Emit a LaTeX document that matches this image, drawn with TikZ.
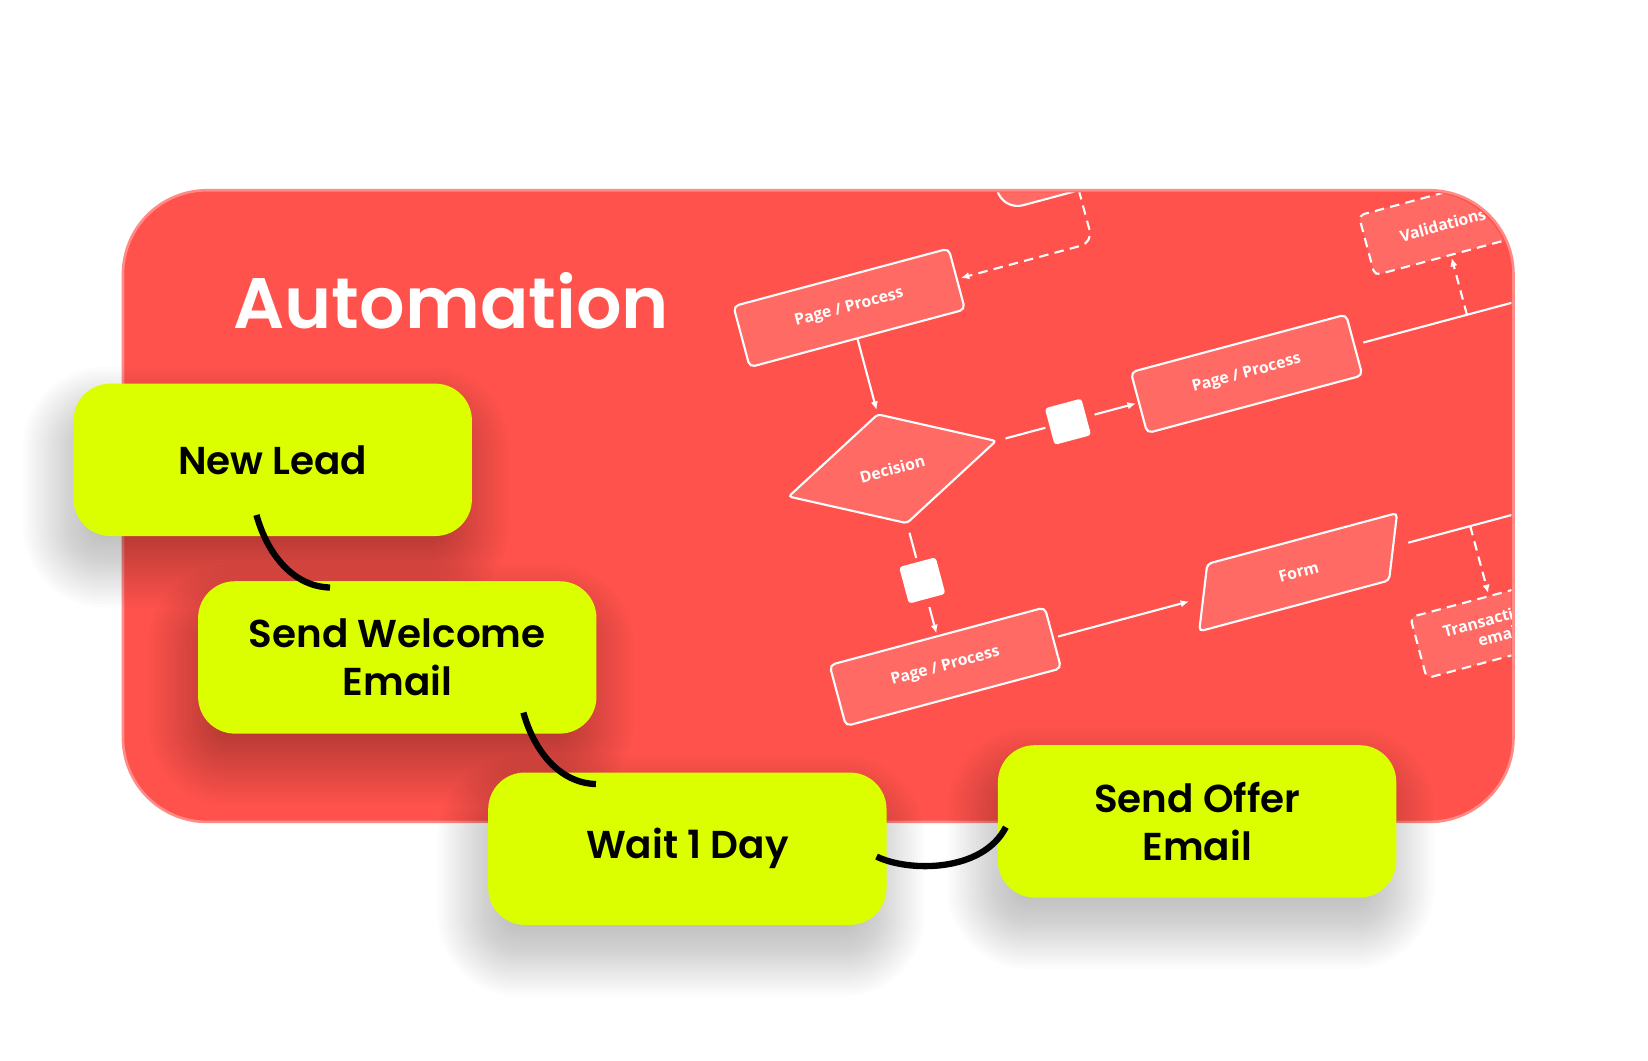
\documentclass[tikz,border=0pt]{standalone}
\usepackage{fontspec}
\setmainfont{Poppins}[BoldFont={Poppins SemiBold}]
\newfontfamily\flowfont{Open Sans}
\usetikzlibrary{shapes.geometric,arrows.meta,calc}
\definecolor{cardred}{HTML}{FF524C}
\definecolor{cardrim}{HTML}{FF8A86}
\definecolor{lime}{HTML}{DCFF00}
\newcommand\softshadow[2]{%
  \foreach \i in {0,...,22}{%
    \pgfmathsetmacro\ex{-24+\i*3}%
    \pgfmathsetmacro\rr{max(35+\ex,8)}%
    \fill[black, fill opacity=0.013, rounded corners=\rr pt]
      ({#1-189.5-\ex-6},{#2-72.5-\ex+26}) rectangle ({#1+189.5+\ex-6},{#2+72.5+\ex+26});
  }}
\begin{document}
\begin{tikzpicture}[x=1pt,y=-1pt,
  card/.style={fill=cardred, draw=cardrim, line width=2.5pt, rounded corners=80pt,
    minimum width=1323pt, minimum height=601pt, inner sep=0pt},
  gbox/.style={fill=lime, rounded corners=35pt, minimum width=379pt, minimum height=145pt,
    inner sep=0pt, align=center, text=black, font=\bfseries\fontsize{37}{45}\selectfont},
  flowtxt/.style={text=white, font=\flowfont\bfseries\fontsize{15}{18}\selectfont},
  flowfill/.style={draw=white, line width=2pt, fill=white, fill opacity=0.14},
  flowbox/.style={flowtxt, flowfill, text opacity=1, rounded corners=5pt,
    minimum width=212pt, minimum height=60pt, inner sep=0pt, align=center},
  flowdia/.style={flowtxt, flowfill, shape=diamond, text opacity=1,
    minimum width=205pt, minimum height=108pt, inner sep=0pt, rounded corners=3pt},
  sqr/.style={fill=white, rounded corners=3pt, minimum size=36pt, inner sep=0pt},
  fline/.style={draw=white, line width=2pt},
  tip/.style={-{Latex[length=8pt,width=7pt]}},
  dashline/.style={dash pattern=on 9pt off 6pt},
  conn/.style={draw=black, line width=6pt}
]
\useasboundingbox (0,0) rectangle (1568,1009);

% card
\node[card] (card) at (778.5,481.5) {};
\node[text=white, font=\bfseries\fontsize{68}{80}\selectfont, anchor=base west,
  inner sep=0pt] (title) at (222,313) {Automation};

% flowchart on the card
\begin{scope}
\clip[rounded corners=80pt] (119,183) rectangle (1438,780);
\begin{scope}[shift={(849,446)}, rotate=15, transform shape]
  \node[flowbox, rounded corners=20pt, minimum width=250pt] (top) at (290,-240) {};
  \node[flowbox] (pa) at (0,-158.5) {Page / Process};
  \node[flowdia] (dec) at (0,0) {Decision};
  \node[sqr] (sq1) at (173,0) {};
  \node[flowbox] (pb) at (349,0) {Page / Process};
  \node[flowbox, dashline, minimum width=150pt, minimum height=59pt] (val) at (566,-88.5) {Validations};
  \node[sqr] (sq2) at (0,110) {};
  \node[flowbox] (pc) at (0,195) {Page / Process};
  % parallelogram "Form"
  \draw[flowfill, rounded corners=4pt] (266,165) -- (453,165) -- (429,225) -- (242,225) -- cycle;
  \node[flowtxt, inner sep=0pt] (form) at (348,195) {Form};
  \coordinate (formL) at (254,195);
  \coordinate (formR) at (441,195);
  \node[flowbox, dashline, minimum width=155pt, font=\flowfont\bfseries\fontsize{15}{17}\selectfont]
    (tr) at (517,294) {Transactional\\email};
  \coordinate (tstart) at (240,-210);
  \coordinate (tcorner) at (240,-158.5);
  \coordinate (vb) at (566,0);
  \coordinate (pbend) at (760,0);
  \coordinate (tb) at (517,195);
  \coordinate (fend) at (760,195);

  \draw[fline, dashline, tip, rounded corners=12pt, shorten >=3pt] (tstart) -- (tcorner) -- (pa.east);
  \draw[fline, tip, shorten >=3pt] (pa.south) -- (dec.north);
  \draw[fline, shorten <=8pt, shorten >=4pt] (dec.east) -- (sq1.west);
  \draw[fline, tip, shorten <=8pt, shorten >=2pt] (sq1.east) -- (pb.west);
  \draw[fline, shorten <=8pt] (pb.east) -- (pbend);
  \draw[fline, dashline, tip, shorten >=2pt] (vb) -- (val.south);
  \draw[fline, shorten <=8pt, shorten >=4pt] (dec.south) -- (sq2.north);
  \draw[fline, tip, shorten <=8pt, shorten >=2pt] (sq2.south) -- (pc.north);
  \draw[fline, tip, shorten <=4pt, shorten >=14pt] (pc.east) -- (formL);
  \draw[fline, shorten <=15pt] (formR) -- (fend);
  \draw[fline, dashline, tip, shorten >=2pt] (tb) -- (tr.north);
\end{scope}
\end{scope}

% green step boxes with soft shadows
\softshadow{259.5}{437.5}
\node[gbox] (nl) at (259.5,437.5) {New Lead};
\softshadow{378}{625.5}
\node[gbox] (sw) at (378,625.5) {Send Welcome\\Email};
\softshadow{654}{807.5}
\node[gbox] (wd) at (654,807.5) {Wait 1 Day};
\softshadow{1139}{781.5}
\node[gbox] (so) at (1139,781.5) {Send Offer\\Email};

% connectors
\coordinate (c1a) at (244,490);
\coordinate (c1b) at (314,559);
\coordinate (c2a) at (498,678);
\coordinate (c2b) at (567,746);
\coordinate (c3a) at (834,815);
\coordinate (c3b) at (957,787);
\draw[conn] (c1a) .. controls (254,526) and (278,558) .. (c1b);
\draw[conn] (c2a) .. controls (508,714) and (532,745) .. (c2b);
\draw[conn] (c3a) .. controls (865,830) and (935,830) .. (c3b);
\end{tikzpicture}
\end{document}
